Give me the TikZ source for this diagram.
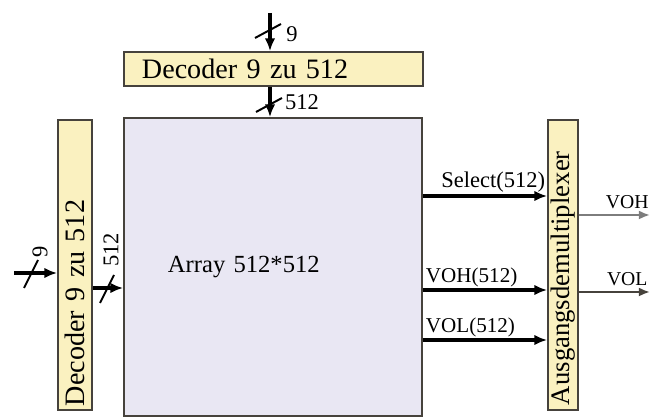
\documentclass[tikz,border=0pt]{standalone}
\usepackage{fontspec}
\setmainfont{Liberation Serif}
\usetikzlibrary{arrows.meta,positioning}
\definecolor{DecYellow}{RGB}{250,241,192}
\definecolor{ArrLilac}{RGB}{233,231,243}
\definecolor{EdgeDark}{RGB}{70,66,60}
\definecolor{WireGray}{RGB}{125,125,125}

\begin{document}
\begin{tikzpicture}[x=0.025cm,y=0.025cm,
    dec/.style={draw=EdgeDark,fill=DecYellow,line width=1.3pt,inner ysep=0pt,
                align=left,font=\fontsize{20}{22}\selectfont},
    bus/.style={-{Latex[length=9pt,width=7.5pt]},line width=2.3pt},
    wire/.style={-{Latex[length=8pt,width=6.5pt]},line width=1.5pt},
    slash/.style={line width=1.4pt},
    lbl/.style={font=\fontsize{16}{18}\selectfont,inner sep=1pt}
  ]
  \useasboundingbox (0,0) rectangle (663,418);
  % blocks
  \node[dec,minimum width=7.475cm,minimum height=0.85cm,inner xsep=0.45cm,
        text width=6.575cm] (dectop) at (273.5,349) {Decoder 9 zu 512};
  \node[dec,rotate=90,minimum width=7.25cm,minimum height=0.85cm,inner xsep=0.1cm,
        text width=7.05cm] (decleft) at (75,153) {Decoder 9 zu 512};
  \node[draw=EdgeDark,fill=ArrLilac,line width=1.3pt,minimum width=7.45cm,
        minimum height=7.45cm,inner xsep=1.1cm,text width=5.25cm,align=left,
        font=\fontsize{17.5}{20}\selectfont] (array) at (273,151) {Array 512*512};
  \node[dec,rotate=90,minimum width=7.25cm,minimum height=0.75cm,inner xsep=0.125cm,
        text width=7.0cm,font=\fontsize{19}{21}\selectfont] (mux) at (563,153) {Ausgangsdemultiplexer};
  % free ends
  \coordinate (topin) at (270,405);
  \coordinate (leftin) at (14,145);
  \coordinate (vohout) at (650,203);
  \coordinate (volout) at (650,126);
  % address buses
  \draw[bus] (topin) -- (topin |- dectop.north);
  \draw[bus] (topin |- dectop.south) -- (topin |- array.north);
  \draw[bus] (leftin) -- (leftin -| decleft.north);
  \draw[bus] ([yshift=-0.575cm]decleft.south) -- ([yshift=-0.575cm]decleft.south -| array.west);
  \draw[slash] (255,380) -- (281,394);
  \draw[slash] (256,306) -- (282,320);
  \draw[slash] (24,130) -- (38,158);
  \draw[slash] (100,115) -- (114,143);
  \node[lbl] (ninetop) at (292,384) {9};
  \node[lbl] (bustop) at (302,316) {512};
  \node[lbl,rotate=90] (nineleft) at (40,166) {9};
  \node[lbl,rotate=90] (busleft) at (111,168) {512};
  % array to mux
  \draw[bus,line width=3pt] ([yshift=1.775cm]array.east) -- ([yshift=1.775cm]array.east -| mux.north)
    node[lbl,above left,inner xsep=0pt] {Select(512)};
  \draw[bus] ([yshift=-0.575cm]array.east) -- ([yshift=-0.575cm]array.east -| mux.north)
    node[lbl,pos=0,above right,font=\fontsize{15}{17}\selectfont] {VOH(512)};
  \draw[bus] ([yshift=-1.825cm]array.east) -- ([yshift=-1.825cm]array.east -| mux.north)
    node[lbl,pos=0,above right,font=\fontsize{15}{17}\selectfont] {VOL(512)};
  % outputs
  \draw[wire,WireGray] (vohout -| mux.south) -- (vohout)
    node[lbl,pos=0.68,above=3pt,text=black,font=\fontsize{14}{16}\selectfont] {VOH};
  \draw[wire,EdgeDark] (volout -| mux.south) -- (volout)
    node[lbl,pos=0.68,above=3pt,text=black,font=\fontsize{14}{16}\selectfont] {VOL};
\end{tikzpicture}
\end{document}
